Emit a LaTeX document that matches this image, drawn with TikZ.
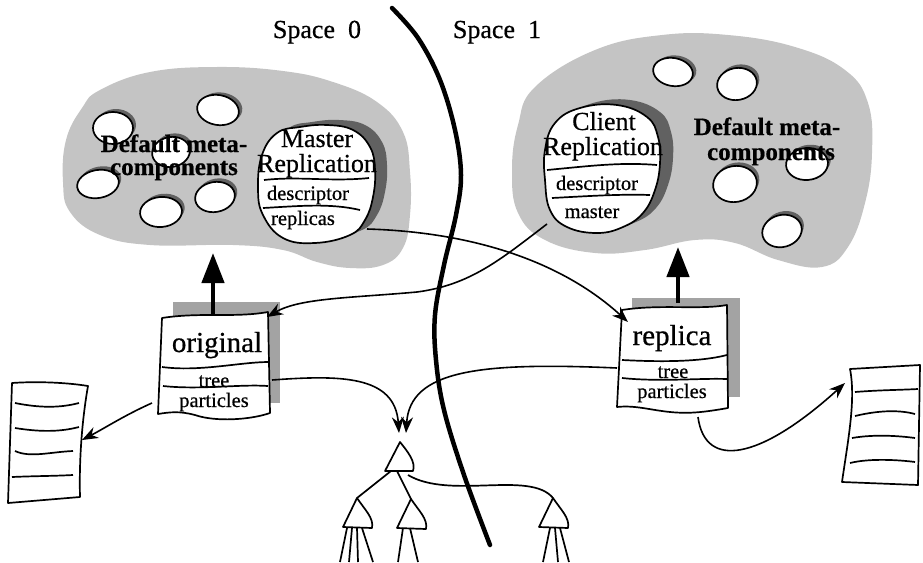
\documentclass[tikz,border=0pt]{standalone}
\usepackage{fontspec}
\setmainfont{Liberation Serif}[FakeBold=0.6]
\usetikzlibrary{arrows.meta}
\colorlet{blobc}{black!23}
\colorlet{shadc}{black!62}
\colorlet{boxshad}{black!36}
\tikzset{
  outl/.style={line width=1.7pt, line join=round},
  conn/.style={line width=1.6pt, -{Stealth[length=16pt,width=12pt]}},
  bigarr/.style={line width=4.5pt, -{Triangle[length=30pt,width=22pt]}},
  divider/.style={line width=4.5pt, line cap=round},
  lbl/.style={inner sep=0pt, anchor=base, font=\fontsize{26}{28}\selectfont},
  fld/.style={inner sep=0pt, anchor=base, font=\fontsize{20.5}{22}\selectfont},
  objname/.style={inner sep=0pt, anchor=base, font=\fontsize{29}{31}\selectfont},
  dflt/.style={inner sep=0pt, anchor=base, font=\bfseries\fontsize{25}{27}\selectfont},
}
\newcommand\holeat[5]{%
  \fill[shadc,rotate around={#5:(#1,#2)}] (#1+3,#2-3) ellipse (#3pt and #4pt);
  \draw[outl,fill=white,rotate around={#5:(#1,#2)}] (#1,#2) ellipse (#3pt and #4pt);}
\newcommand\subtree[2]{% apex x y
  \draw[outl] (#1,#2) -- (#1-14,#2+29) -- (#1+15,#2+30) .. controls (#1+17,#2+20) and (#1+8,#2+12) .. cycle;}
\begin{document}
\begin{tikzpicture}[x=1pt,y=-1pt]
\useasboundingbox (0,0) rectangle (923,562);

% ---------- big blobs ----------
\fill[blobc] plot[smooth cycle, tension=0.7] coordinates {(63,182) (66,140) (82,108) (100,90) (150,72) (217,67) (283,71) (333,82) (377,102) (403,132) (410,172) (410,215) (403,248) (383,265) (350,268) (317,262) (283,250) (233,245) (150,245) (100,235) (70,212)};
\fill[blobc] plot[smooth cycle, tension=0.7] coordinates {(512,170) (518,125) (535,87) (595,50) (662,35) (728,35) (795,47) (845,70) (868,103) (872,153) (865,203) (848,247) (822,267) (778,260) (735,243) (695,240) (645,250) (595,253) (545,240) (518,213)};

% ---------- small meta-components ----------
\holeat{218}{110}{21}{15}{-10}
\holeat{113}{128}{20}{16}{0}
\holeat{171}{152}{19}{15}{10}
\holeat{98}{184}{21}{14}{10}
\holeat{215}{197}{20}{15}{10}
\holeat{161}{212}{21}{15}{5}
\holeat{673}{72}{20}{14}{-10}
\holeat{737}{84}{20}{16}{10}
\holeat{807}{164}{21}{16}{5}
\holeat{735}{184}{22}{18}{10}
\holeat{782}{231}{20}{16}{15}

\node[dflt] (dmL1) at (174,152) {Default meta-};
\node[dflt] (dmL2) at (174,175) {components};
\node[dflt] (dmR1) at (767,135) {Default meta-};
\node[dflt] (dmR2) at (771,160) {components};

% ---------- Master Replication ----------
\begin{scope}[shift={(12,-5)}]
\fill[shadc] plot[smooth cycle, tension=0.7] coordinates {(262,155) (277,133) (300,127) (327,125) (353,130) (370,147) (375,170) (373,197) (365,220) (350,235) (315,243) (283,238) (263,215) (258,188)};
\end{scope}
\draw[outl,fill=white] plot[smooth cycle, tension=0.7] coordinates {(262,155) (277,133) (300,127) (327,125) (353,130) (370,147) (375,170) (373,197) (365,220) (350,235) (315,243) (283,238) (263,215) (258,188)};
\node[lbl] (mm) at (317,147) {Master};
\node[lbl] (mr) at (317,172) {Replication};
\draw[outl] (264,180) .. controls (300,176) and (330,182) .. (369,178);
\node[fld] (md) at (308,200) {descriptor};
\draw[outl] (263,208) .. controls (300,206) and (330,203) .. (360,210);
\node[fld] (mreps) at (303,225) {replicas};

% ---------- Client Replication ----------
\begin{scope}[shift={(13,-5)}]
\fill[shadc] plot[smooth cycle, tension=0.7] coordinates {(545,150) (555,123) (580,108) (617,105) (647,117) (658,137) (660,163) (655,190) (643,213) (623,227) (597,233) (567,227) (550,210) (545,180)};
\end{scope}
\draw[outl,fill=white] plot[smooth cycle, tension=0.7] coordinates {(545,150) (555,123) (580,108) (617,105) (647,117) (658,137) (660,163) (655,190) (643,213) (623,227) (597,233) (567,227) (550,210) (545,180)};
\node[lbl] (cc) at (604,130) {Client};
\node[lbl] (cr) at (603,155) {Replication};
\draw[outl] (547,170) .. controls (590,166) and (620,162) .. (657,165);
\node[fld] (cd) at (597,190) {descriptor};
\draw[outl] (552,198) .. controls (590,196) and (620,194) .. (650,195);
\node[fld] (cm) at (592,218) {master};

% ---------- divider ----------
\draw[divider] plot[smooth, tension=0.6] coordinates {(392,8) (418,38) (440,80) (455,130) (461,175) (456,215) (444,265) (435,315) (436,360) (444,410) (464,475) (490,545)};
\node[lbl] (sp0) at (317,38) {Space\hspace{0.5em}0};
\node[lbl] (sp1) at (497,38) {Space\hspace{0.5em}1};

% ---------- original box ----------
\fill[boxshad] (173,302) rectangle (280,403);
\draw[outl,fill=white] (162,318) .. controls (200,312) and (235,318) .. (268,312) -- (270,413) .. controls (250,420) and (215,422) .. (195,415) .. controls (180,411) and (170,412) .. (158,414) -- cycle;
\draw[outl] (162,367) .. controls (200,372) and (240,362) .. (269,362);
\draw[outl] (163,386) .. controls (200,390) and (240,384) .. (268,386);
\node[objname] (orig) at (217,352) {original};
\node[fld] (otree) at (214,387) {tree};
\node[fld] (opart) at (214,407) {particles};

% ---------- replica box ----------
\fill[boxshad] (632,298) rectangle (740,397);
\draw[outl,fill=white] (622,310) .. controls (660,304) and (700,310) .. (727,305) -- (728,408) .. controls (705,412) and (690,414) .. (670,412) .. controls (650,410) and (635,405) .. (617,407) -- cycle;
\draw[outl] (622,360) .. controls (660,362) and (700,362) .. (727,355);
\draw[outl] (622,378) .. controls (660,382) and (700,378) .. (727,379);
\node[objname] (repl) at (672,345) {replica};
\node[fld] (rtree) at (673,378) {tree};
\node[fld] (rpart) at (672,398) {particles};

% ---------- thick arrows ----------
\coordinate (otop) at (213,314);
\coordinate (blobLb) at (213,253);
\coordinate (rtop) at (678,303);
\coordinate (blobRb) at (678,247);
\draw[bigarr] (otop) -- (blobLb);
\draw[bigarr] (rtop) -- (blobRb);

% ---------- lists ----------
\draw[outl] (12,383) .. controls (40,381) and (70,383) .. (88,386) .. controls (82,420) and (79,460) .. (80,497) -- (8,503) -- cycle;
\draw[outl] (15,403) .. controls (40,408) and (60,408) .. (79,403);
\draw[outl] (15,428) .. controls (40,432) and (60,432) .. (79,427);
\draw[outl] (15,451) .. controls (30,458) and (50,452) .. (73,451);
\draw[outl] (12,477) .. controls (35,476) and (55,476) .. (73,475);
\draw[outl] (850,369) -- (920,365) -- (918,485) -- (842,482) .. controls (848,440) and (856,400) .. cycle;
\draw[outl] (855,392) .. controls (880,390) and (900,390) .. (918,389);
\draw[outl] (855,416) .. controls (880,410) and (900,410) .. (915,414);
\draw[outl] (852,438) .. controls (875,434) and (900,436) .. (915,438);
\draw[outl] (850,463) .. controls (870,458) and (900,460) .. (915,462);

% ---------- tree ----------
\draw[outl] (400,442) -- (385,471) -- (413,471) .. controls (416,462) and (408,452) .. cycle;
\subtree{357}{498}
\subtree{411}{499}
\subtree{553}{498}
\draw[outl] (391,471) -- (357,498);
\draw[outl] (397,471) -- (411,499);
\coordinate (apexT) at (399,433);
\coordinate (apexT2) at (406,433);
\coordinate (apexR) at (408,475);
\coordinate (rsub) at (553,498);
\draw[outl] (apexR) .. controls (450,500) and (530,470) .. (rsub);
\foreach \a/\b in {347/340,352/349,357/358,362/373,403/398,410/418,550/543,555/558,560/569}
  \draw[outl] (\a,528) -- (\b,562);

% ---------- connectors ----------
\coordinate (mrepsE) at (367,229);
\coordinate (repTL) at (628,322);
\coordinate (cliE) at (547,224);
\coordinate (origTR) at (267,317);
\coordinate (otreeE) at (272,380);
\coordinate (rtreeE) at (617,368);
\coordinate (opartE) at (152,403);
\coordinate (listL) at (82,440);
\coordinate (rbot) at (698,417);
\coordinate (listR) at (845,383);
\draw[conn] (mrepsE) .. controls (470,232) and (560,260) .. (repTL);
\draw[conn] (cliE) .. controls (500,260) and (470,285) .. (417,292) .. controls (350,298) and (300,298) .. (origTR);
\draw[conn] (otreeE) .. controls (340,375) and (395,375) .. (apexT);
\draw[conn] (rtreeE) .. controls (480,362) and (410,370) .. (apexT2);
\draw[conn] (opartE) .. controls (125,415) and (105,428) .. (listL);
\draw[conn] (rbot) .. controls (705,470) and (760,460) .. (listR);
\end{tikzpicture}
\end{document}
